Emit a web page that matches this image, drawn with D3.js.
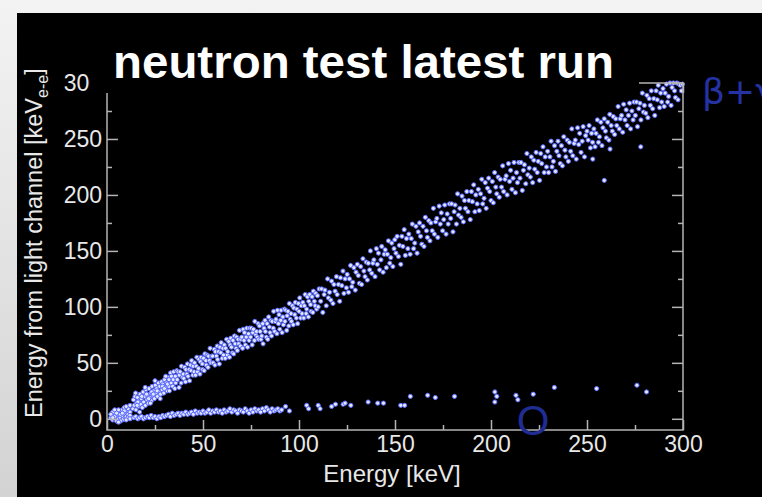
<!DOCTYPE html>
<html>
<head>
<meta charset="utf-8">
<script src="https://cdn.jsdelivr.net/npm/d3@7"></script>
<style>
  html, body { margin: 0; padding: 0; background: #000; }
  svg { display: block; }
</style>
</head>
<body>
<div id="chart"></div>
<script>
// --- data (keV, keVee) ---
var xTicks = [0, 50, 100, 150, 200, 250, 300];
var xMinor = [25, 75, 125, 175, 225, 275];
var yTicks = [0, 50, 100, 150, 200, 250, 300];
var yMinor = [25, 75, 125, 175, 225, 275];

// electron recoil band (beta + gamma)
var mainBand = [
  // blob at the origin
  [2,1],[3,-1],[3,3],[4,0],[4,5],[5,2],[5,-2],[6,4],[6,0],[7,6],[7,1],[8,3],[8,8],[9,5],[9,0],[10,7],[10,2],[11,9],[11,4],[12,6],
  [3,6],[5,7],[6,8],[8,-1],[9,10],[2,4],[4,8],[7,-2],[10,11],[12,12],[4,2],[6,-3],[5,5],[7,4],[9,7],[11,1],[3,1],[8,5],[10,-1],[12,3],
  // 13 - 32
  [13.5,9],[13.8,17],[14.2,12],[14.6,20],[15.1,8],[15.4,14],[15.9,19],[16.3,11],[16.7,16],[17.2,22],[17.5,13],[17.9,18],[18.4,10],
  [18.8,24],[19.1,15],[19.6,20],[20.0,12],[20.3,26],[20.8,17],[21.2,21],[21.5,14],[21.9,27],[22.3,19],[22.8,23],[23.1,16],[23.5,29],
  [23.9,21],[24.4,25],[24.7,18],[25.2,30],[25.6,23],[25.9,27],[26.3,20],[26.8,32],[27.2,24],[27.5,29],[27.9,22],[28.4,33],[28.7,26],
  [29.1,31],[29.6,23],[30.0,35],[30.4,28],[30.9,32],[31.3,25],[31.8,37],[32.2,29],[14.9,23],[17.0,6],[19.9,28],[22.6,14],[25.0,34],
  [27.7,18],[30.6,38],[16.1,15],[18.1,20],[20.6,22],[23.3,24],[26.1,25],[28.9,29],[31.5,31],[15.7,12],[21.7,18],[24.1,22],[29.9,27],
  // 32 - 55
  [32.3,35],[32.5,25],[33.1,41],[33.4,32],[33.6,38],[34.2,29],[34.5,35],[34.7,42],[35.3,27],[35.6,38],[35.8,32],[36.4,43],[36.6,35],
  [37.0,42],[37.5,28],[37.7,39],[38.1,42],[38.6,32],[38.8,47],[39.3,37],[39.7,40],[40.0,36],[40.4,46],[40.9,33],[41.1,44],[41.6,40],
  [41.9,49],[42.2,38],[42.8,44],[43.0,34],[43.5,48],[43.8,43],[44.1,52],[44.7,39],[44.9,47],[45.4,42],[45.6,50],[46.1,39],[46.5,47],
  [46.8,55],[47.2,42],[47.7,45],[47.9,53],[48.4,40],[48.7,51],[49.0,55],[49.6,49],[49.8,44],[50.3,54],[50.6,43],[51.0,58],[51.5,52],
  [51.7,48],[52.2,57],[52.6,46],[52.9,56],[53.4,52],[53.7,63],[54.1,50],[54.6,56],
  // 55 - 80
  [55.0,56],[55.3,50],[55.9,62],[56.2,48],[56.5,60],[57.0,56],[57.4,65],[57.6,53],[58.1,60],[58.5,49],[58.8,64],[59.3,59],[59.5,68],
  [60.0,54],[60.4,63],[60.7,57],[61.1,66],[61.6,54],[61.8,63],[62.3,71],[62.7,57],[62.9,60],[63.4,69],[63.8,55],[64.1,66],[64.5,72],
  [64.8,64],[65.3,59],[65.6,70],[66.0,58],[66.4,74],[66.7,67],[67.2,63],[67.5,73],[67.9,61],[68.3,71],[68.6,67],[69.0,79],[69.5,65],
  [69.7,71],[70.2,73],[70.6,63],[70.9,80],[71.4,70],[71.6,77],[72.1,66],[72.5,73],[72.8,81],[73.2,64],[73.7,76],[74.0,70],[74.3,81],
  [74.8,73],[75.1,81],[75.6,66],[75.9,77],[76.3,80],[76.8,70],[77.0,87],[77.5,75],[77.9,78],[78.2,73],[78.7,85],[79.0,71],[79.4,83],
  [79.8,78],
  // 80 - 110
  [80.2,71],[80.6,74],[81.1,85],[81.3,67],[81.8,81],[82.3,88],[82.5,78],[83.0,73],[83.4,85],[83.7,71],[84.2,91],[84.6,82],[84.9,77],
  [85.4,88],[85.7,74],[86.1,87],[86.6,81],[86.8,96],[87.3,78],[87.7,87],[88.0,89],[88.5,76],[88.8,97],[89.3,85],[89.6,93],[90.0,80],
  [90.5,88],[90.7,97],[91.2,77],[91.6,91],[91.9,84],[92.4,98],[92.7,87],[93.1,97],[93.6,79],[93.8,92],[94.3,96],[94.7,83],[95.0,103],
  [95.4,89],[95.9,94],[96.1,87],[96.6,101],[97.0,84],[97.3,99],[97.8,93],[98.1,104],[98.6,90],[98.9,98],[99.3,85],[99.7,103],[100.0,96],
  [100.4,108],[100.9,90],[101.2,101],[101.6,94],[102.0,104],[102.5,90],[102.8,101],[103.2,111],[103.7,94],[104.0,98],[104.4,109],
  [104.9,91],[105.1,105],[105.6,111],[106.0,102],[106.3,96],[106.8,109],[107.2,95],[107.5,114],[108.0,105],[108.4,101],[108.7,112],
  [109.2,98],[109.6,110],
  // 110 - 150
  [110.0,100],[110.5,116],[111.3,105],[111.8,116],[112.4,95],[113.1,111],[113.5,115],[114.2,101],[114.9,125],[115.3,108],[115.9,113],
  [116.6,106],[117.0,123],[117.7,103],[118.2,120],[118.8,114],[119.5,127],[119.9,111],[120.6,120],[121.2,105],[121.6,126],[122.3,119],
  [122.9,132],[123.4,112],[124.0,125],[124.7,117],[125.1,129],[125.8,113],[126.3,125],[126.9,137],[127.5,118],[128.0,122],[128.6,135],
  [129.3,115],[129.7,131],[130.4,138],[130.9,128],[131.5,121],[132.1,136],[132.6,120],[133.3,143],[133.8,132],[134.4,127],[135.0,140],
  [135.6,124],[136.1,139],[136.8,133],[137.2,150],[137.9,130],[138.5,139],[139.0,142],[139.6,127],[140.3,152],[140.8,138],[141.4,148],
  [142.0,133],[142.7,142],[143.1,154],[143.8,131],[144.4,147],[144.9,151],[145.5,135],[146.0,147],[146.6,159],[147.3,139],[147.8,144],
  [148.3,157],[148.9,136],[149.5,152],[149.9,160],
  // 150 - 200
  [150.5,148],[151.1,163],[151.8,145],[152.3,155],[153.0,138],[153.6,163],[154.1,154],[154.8,169],[155.4,146],[156.0,161],[156.7,152],
  [157.2,165],[157.9,147],[158.5,161],[159.0,174],[159.7,152],[160.3,157],[160.9,172],[161.5,148],[162.1,167],[162.8,175],[163.3,163],
  [164.0,156],[164.6,172],[165.1,154],[165.8,180],[166.4,168],[166.9,162],[167.6,177],[168.2,159],[168.7,175],[169.4,168],[170.0,188],
  [170.5,165],[171.2,176],[171.8,179],[172.3,162],[173.0,190],[173.6,174],[174.1,184],[174.8,168],[175.4,178],[175.9,191],[176.6,165],
  [177.2,183],[177.7,174],[178.4,192],[179.0,179],[179.5,192],[180.2,167],[180.8,185],[181.3,191],[182.0,174],[182.6,201],[183.1,182],
  [183.8,188],[184.4,180],[184.9,199],[185.6,176],[186.2,195],[186.7,188],[187.4,203],[188.0,185],[188.5,195],[189.2,178],[189.8,203],
  [190.3,194],[191.0,209],[191.6,185],[192.1,200],[192.8,192],[193.4,205],[193.9,186],[194.6,201],[195.2,214],[195.7,192],[196.4,197],
  [197.0,211],[197.5,188],[198.2,206],[198.8,215],[199.3,203],
  // 200 - 250
  [200.0,195],[200.7,212],[201.2,193],[201.9,220],[202.5,207],[203.0,201],[203.7,216],[204.3,198],[204.8,214],[205.5,207],[206.1,226],
  [206.6,203],[207.3,214],[207.9,217],[208.4,200],[209.1,228],[209.7,212],[210.2,222],[210.9,205],[211.5,215],[212.0,229],[212.7,202],
  [213.3,220],[213.8,211],[214.5,229],[215.1,215],[215.6,229],[216.3,204],[216.9,222],[217.4,227],[218.1,210],[218.7,237],[219.2,218],
  [219.9,224],[220.5,216],[221.0,234],[221.7,211],[222.3,231],[222.8,223],[223.5,238],[224.1,220],[224.6,230],[225.3,213],[225.9,237],
  [226.4,228],[227.1,243],[227.7,220],[228.2,234],[228.9,225],[229.5,239],[230.0,220],[230.7,234],[231.3,248],[231.8,225],[232.5,230],
  [233.1,244],[233.6,221],[234.3,239],[234.9,248],[235.4,235],[236.1,228],[236.7,244],[237.2,226],[237.9,252],[238.5,240],[239.0,234],
  [239.7,249],[240.3,230],[240.8,247],[241.5,239],[242.1,259],[242.6,235],[243.3,246],[243.9,249],[244.4,232],[245.1,260],[245.7,245],
  [246.2,255],[246.9,238],[247.5,248],[248.0,261],[248.7,234],[249.3,253],
  // 250 - 300
  [250.0,257],[250.6,249],[251.1,262],[251.8,242],[252.4,255],[252.9,247],[253.6,259],[254.2,243],[254.7,255],[255.4,267],[256.0,247],
  [256.5,252],[257.2,265],[257.8,244],[258.3,260],[259.0,268],[259.6,257],[260.1,251],[260.8,265],[261.4,249],[261.9,272],[262.6,262],
  [263.2,257],[263.7,270],[264.4,254],[265.0,268],[265.5,262],[266.2,279],[266.8,259],[267.3,268],[268.0,271],[268.6,256],[269.1,281],
  [269.8,267],[270.4,276],[270.9,262],[271.6,271],[272.2,282],[272.7,259],[273.4,275],[274.0,267],[274.5,283],[275.2,271],[275.8,283],
  [276.3,261],[277.0,277],[277.6,282],[278.1,267],[278.8,291],[279.4,274],[279.9,280],[280.6,273],[281.2,289],[281.7,269],[282.4,286],
  [283.0,280],[283.5,293],[284.2,277],[284.8,286],[285.3,271],[286.0,293],[286.6,285],[287.1,298],[287.8,278],[288.4,291],[288.9,283],
  [289.6,295],[290.2,279],[290.7,291],[291.4,299],[292.0,283],[292.5,288],[293.2,300],[293.8,280],[294.3,296],[295.0,300],[295.6,293],
  [296.1,287],[296.8,300],[297.4,285],[297.9,299],[298.6,298],[299.2,293],[299.7,299],
  // stray points below the band
  [259,213],[278,243],[262,241],[253,232]
];

// nuclear recoil band (low light yield)
var recoilBand = [
  [12,0],[14,1],[15,2],[16,0],[17,1],[18,2],[19,0],[20,1],[21,2],[22,1],[23,3],[24,1],[25,2],[26,0],[27,2],[28,1],[29,3],[30,2],
  [31,3],[32,4],[33,2],[34,5],[35,3],[36,4],[37,5],[38,3],[39,5],[40,4],[41,6],[42,4],[43,5],[44,6],[45,4],[46,7],[47,5],[48,6],
  [49,5],[50,7],[51,5],[52,6],[53,8],[54,5],[55,7],[56,6],[57,8],[58,6],[59,7],[60,5],[61,8],[62,6],[63,7],[64,9],[65,6],[66,8],
  [67,7],[68,5],[69,8],[70,7],[71,6],[72,9],[73,7],[74,5],[75,8],[76,6],[77,9],[78,7],[79,8],[80,6],[81,9],[82,7],[83,10],[84,8],
  [85,6],[86,9],[87,7],[88,8],[89,9],[90,7],[91,8],[93,11],[95,7],[104,12],[105,9],[110,12],[111,9],[117,11],[119,13],[123,13],
  [124,14],[127,12],[136,15],[141,14],[144,14],[153,12],[155,12],[158,20],[167,21],[171,19],[181,20],[202,24],[203,20],[202,15],
  [213,21],[214,17],[222,22],[233,28],[255,27],[276,30],[281,24]
];

var W = 762, H = 497;
var plot = {left: 107, right: 683, top: 83, bottom: 430};
var fontFam = "'Liberation Sans', Arial, Helvetica, sans-serif";

var svg = d3.select("#chart").append("svg")
  .attr("width", W)
  .attr("height", H);

// 背景 (grey slide edge + black panel)
var defs = svg.append("defs");
var grad = defs.append("linearGradient").attr("id", "edge")
  .attr("x1", 0).attr("y1", 0).attr("x2", 0).attr("y2", 1);
grad.append("stop").attr("offset", "0%").attr("stop-color", "#f3f3f3");
grad.append("stop").attr("offset", "100%").attr("stop-color", "#d3d3d3");
svg.append("rect").attr("width", W).attr("height", H).attr("fill", "url(#edge)");
svg.append("rect").attr("x", 17).attr("y", 13).attr("width", W - 17).attr("height", H - 13).attr("fill", "#000");

defs.append("clipPath").attr("id", "plotclip").append("rect")
  .attr("x", plot.left).attr("y", plot.top - 3)
  .attr("width", plot.right - plot.left + 3).attr("height", plot.bottom - plot.top + 3);

var x = d3.scaleLinear().domain([0, 300]).range([plot.left, plot.right]);
var y = d3.scaleLinear().domain([-10, 300]).range([plot.bottom, plot.top]);

// points
var dots = svg.append("g").attr("clip-path", "url(#plotclip)");
dots.selectAll("circle")
  .data(mainBand.concat(recoilBand))
  .enter()
  .append("circle")
  .attr("cx", function(d){ return x(d[0]); })
  .attr("cy", function(d){ return y(d[1]); })
  .attr("r", 2.1)
  .attr("fill", "#e2e6ff")
  .attr("stroke", "#5a69ff")
  .attr("stroke-width", 1);

// frame + ticks (ROOT style, ticks inside)
var axisColor = "#b4b4b4";
function styleAxis(g){
  g.select(".domain").remove();
  g.selectAll(".tick line").attr("stroke", axisColor).attr("stroke-width", 1.5);
  g.selectAll(".tick text").attr("fill", "#e8e8e8")
    .style("font-family", fontFam).style("font-size", "23px");
}

svg.append("g").attr("transform", "translate(0," + plot.bottom + ")")
  .call(d3.axisBottom(x).tickValues(xTicks).tickSize(-10).tickPadding(6))
  .call(styleAxis);
svg.append("g").attr("transform", "translate(0," + plot.bottom + ")")
  .call(d3.axisBottom(x).tickValues(xMinor).tickSize(-5).tickFormat(""))
  .call(styleAxis);
svg.append("g").attr("transform", "translate(0," + plot.top + ")")
  .call(d3.axisTop(x).tickValues(xTicks).tickSize(-10).tickFormat(""))
  .call(styleAxis);
svg.append("g").attr("transform", "translate(0," + plot.top + ")")
  .call(d3.axisTop(x).tickValues(xMinor).tickSize(-5).tickFormat(""))
  .call(styleAxis);

svg.append("g").attr("transform", "translate(" + plot.left + ",0)")
  .call(d3.axisLeft(y).tickValues(yTicks).tickSize(-11).tickPadding(5))
  .call(styleAxis);
svg.append("g").attr("transform", "translate(" + plot.left + ",0)")
  .call(d3.axisLeft(y).tickValues(yMinor).tickSize(-5).tickFormat(""))
  .call(styleAxis);
svg.append("g").attr("transform", "translate(" + plot.right + ",0)")
  .call(d3.axisRight(y).tickValues(yTicks).tickSize(-11).tickFormat(""))
  .call(styleAxis);
svg.append("g").attr("transform", "translate(" + plot.right + ",0)")
  .call(d3.axisRight(y).tickValues(yMinor).tickSize(-5).tickFormat(""))
  .call(styleAxis);

svg.append("rect")
  .attr("x", plot.left).attr("y", plot.top)
  .attr("width", plot.right - plot.left).attr("height", plot.bottom - plot.top)
  .attr("fill", "none").attr("stroke", axisColor).attr("stroke-width", 1.5);

// title box hides the top-left corner of the frame
svg.append("rect").attr("x", 90).attr("y", 13).attr("width", 549).attr("height", 80).attr("fill", "#000");
svg.append("text")
  .attr("x", 113).attr("y", 78)
  .attr("textLength", 501).attr("lengthAdjust", "spacingAndGlyphs")
  .style("font-family", fontFam).style("font-weight", "bold").style("font-size", "46px")
  .attr("fill", "#fff")
  .text("neutron test latest run");

// axis titles
svg.append("text")
  .attr("x", 392).attr("y", 482)
  .attr("text-anchor", "middle")
  .style("font-family", fontFam).style("font-size", "24px")
  .attr("fill", "#e8e8e8")
  .text("Energy [keV]");

var ylab = svg.append("text")
  .attr("transform", "translate(42,418) rotate(-90)")
  .style("font-family", fontFam).style("font-size", "23.5px")
  .attr("fill", "#e8e8e8");
ylab.append("tspan").text("Energy from light channel [keV");
ylab.append("tspan").attr("dy", 6).style("font-size", "16px").text("e-e");
ylab.append("tspan").attr("dy", -6).text("]");

// annotations
svg.append("text")
  .attr("x", 702).attr("y", 104)
  .style("font-family", "'DejaVu Sans', sans-serif").style("font-size", "36px")
  .attr("fill", "#2432a4")
  .text("β+γ");
svg.append("text")
  .attr("x", 533).attr("y", 435)
  .attr("text-anchor", "middle")
  .style("font-family", fontFam).style("font-size", "42px")
  .attr("fill", "#1f2c92")
  .text("O");
</script>
</body>
</html>
